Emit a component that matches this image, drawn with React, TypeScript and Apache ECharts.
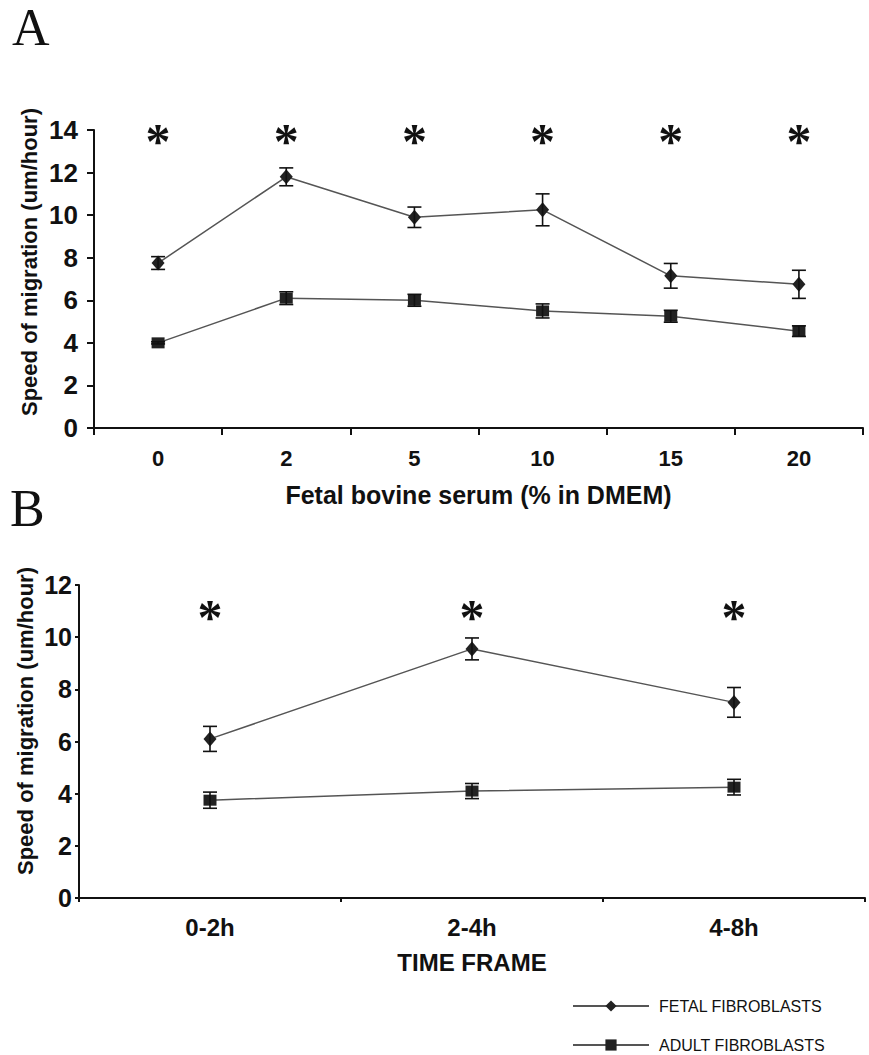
import React, { useEffect, useRef } from "react";
import * as echarts from "echarts";

// ---- Data ----
const catsA = ["0", "2", "5", "10", "15", "20"];
const fetalA = [7.75, 11.8, 9.9, 10.25, 7.15, 6.75];
const fetalAErr = [0.3, 0.42, 0.48, 0.75, 0.58, 0.66];
const adultA = [4.0, 6.1, 6.0, 5.5, 5.25, 4.55];
const adultAErr = [0.05, 0.3, 0.28, 0.33, 0.28, 0.25];
const sigA = [true, true, true, true, true, true];

const catsB = ["0-2h", "2-4h", "4-8h"];
const fetalB = [6.1, 9.55, 7.5];
const fetalBErr = [0.48, 0.42, 0.57];
const adultB = [3.75, 4.1, 4.25];
const adultBErr = [0.31, 0.29, 0.3];
const sigB = [true, true, true];

const yTicksA = { min: 0, max: 14, interval: 2 };
const yTicksB = { min: 0, max: 12, interval: 2 };

const FETAL = "FETAL FIBROBLASTS";
const ADULT = "ADULT FIBROBLASTS";
const Y_TITLE = "Speed of migration (um/hour)";

// ---- Styles ----
const SANS = "'Liberation Sans', Arial, sans-serif";
const SERIF = "'Liberation Serif', 'Times New Roman', serif";
const STAR_LEVEL_A = 13.77;
const STAR_LEVEL_B = 11.0;
const STAR_SIZE = 50;

const errData = (vals: number[], errs: number[]) =>
  vals.map((v, i) => [i, v - errs[i], v + errs[i]]);

const renderErr = (params: any, api: any) => {
  const x = api.value(0);
  const lo = api.coord([x, api.value(1)]);
  const hi = api.coord([x, api.value(2)]);
  const w = 7;
  const st = { stroke: "#111", lineWidth: 1.6 };
  return {
    type: "group",
    children: [
      { type: "line", shape: { x1: hi[0], y1: hi[1], x2: lo[0], y2: lo[1] }, style: st },
      { type: "line", shape: { x1: hi[0] - w, y1: hi[1], x2: hi[0] + w, y2: hi[1] }, style: st },
      { type: "line", shape: { x1: lo[0] - w, y1: lo[1], x2: lo[0] + w, y2: lo[1] }, style: st },
    ],
  };
};

const renderStar = (params: any, api: any) => {
  const p = api.coord([api.value(0), api.value(1)]);
  return {
    type: "text",
    x: p[0],
    y: p[1] + STAR_SIZE * 0.12,
    style: {
      text: "*",
      fontSize: STAR_SIZE,
      fontWeight: "bold",
      fontFamily: SERIF,
      fill: "#111",
      align: "center",
      verticalAlign: "middle",
    },
  };
};

const starData = (sig: boolean[], level: number) =>
  sig.map((s, i) => (s ? [i, level] : null)).filter((d) => d !== null);

const axisLineStyle = { show: true, lineStyle: { color: "#111", width: 2 } };

const yTitle = (x: number, y: number) => ({
  type: "text",
  x,
  y,
  rotation: Math.PI / 2,
  style: {
    text: Y_TITLE,
    fontSize: 22,
    fontWeight: "bold",
    fontFamily: SANS,
    fill: "#111",
    align: "center",
    verticalAlign: "middle",
  },
});

const legendCommon = {
  orient: "horizontal",
  left: 572,
  padding: 0,
  itemWidth: 76,
  itemHeight: 14,
  textStyle: { fontSize: 16, color: "#111", fontFamily: SANS, padding: [0, 0, 0, 5] },
};

export default function App() {
  const ref = useRef<HTMLDivElement>(null);
  useEffect(() => {
    if (!ref.current) return;
    const chart = echarts.init(ref.current, null, { renderer: "svg" });
    const lineCommon = {
      type: "line",
      lineStyle: { color: "#555", width: 1.5 },
      itemStyle: { color: "#222" },
      showSymbol: true,
      z: 3,
    };
    const option: any = {
      animation: false,
      backgroundColor: "#fff",
      textStyle: { fontFamily: SANS },
      grid: [
        { left: 94, top: 130, width: 769, height: 298 },
        { left: 79, top: 585, width: 786, height: 313 },
      ],
      xAxis: [
        {
          type: "category",
          gridIndex: 0,
          data: catsA,
          boundaryGap: true,
          axisLine: axisLineStyle,
          axisTick: { show: true, length: 7, lineStyle: { color: "#111", width: 2 } },
          axisLabel: { fontSize: 22, fontWeight: "bold", color: "#111", fontFamily: SANS, margin: 19 },
          name: "Fetal bovine serum (% in DMEM)",
          nameLocation: "middle",
          nameGap: 54,
          nameTextStyle: { fontSize: 25, fontWeight: "bold", color: "#111", fontFamily: SANS },
        },
        {
          type: "category",
          gridIndex: 1,
          data: catsB,
          boundaryGap: true,
          axisLine: axisLineStyle,
          axisTick: { show: true, length: 4, lineStyle: { color: "#111", width: 2 } },
          axisLabel: { fontSize: 24, fontWeight: "bold", color: "#111", fontFamily: SANS, margin: 17 },
          name: "TIME FRAME",
          nameLocation: "middle",
          nameGap: 52,
          nameTextStyle: { fontSize: 24, fontWeight: "bold", color: "#111", fontFamily: SANS },
        },
      ],
      yAxis: [
        {
          type: "value",
          gridIndex: 0,
          ...yTicksA,
          axisLine: axisLineStyle,
          axisTick: { show: true, length: 7, lineStyle: { color: "#111", width: 2 } },
          splitLine: { show: false },
          axisLabel: { fontSize: 26, fontWeight: "bold", color: "#111", fontFamily: SANS, margin: 16 },
        },
        {
          type: "value",
          gridIndex: 1,
          ...yTicksB,
          axisLine: axisLineStyle,
          axisTick: { show: true, length: 4, lineStyle: { color: "#111", width: 2 } },
          splitLine: { show: false },
          axisLabel: { fontSize: 25, fontWeight: "bold", color: "#111", fontFamily: SANS, margin: 7 },
        },
      ],
      legend: [
        { ...legendCommon, top: 998, data: [FETAL] },
        { ...legendCommon, top: 1037, data: [ADULT] },
      ],
      graphic: [
        { type: "text", left: 12, top: 1, style: { text: "A", font: `52px ${SERIF}`, fill: "#111" } },
        { type: "text", left: 10, top: 482, style: { text: "B", font: `52px ${SERIF}`, fill: "#111" } },
        yTitle(29, 262),
        yTitle(25, 721),
      ],
      series: [
        { ...lineCommon, name: FETAL, xAxisIndex: 0, yAxisIndex: 0, data: fetalA, symbol: "diamond", symbolSize: [13, 15] },
        { ...lineCommon, name: ADULT, xAxisIndex: 0, yAxisIndex: 0, data: adultA, symbol: "rect", symbolSize: [13, 11] },
        { ...lineCommon, name: FETAL, xAxisIndex: 1, yAxisIndex: 1, data: fetalB, symbol: "diamond", symbolSize: [13, 15] },
        { ...lineCommon, name: ADULT, xAxisIndex: 1, yAxisIndex: 1, data: adultB, symbol: "rect", symbolSize: [13, 11] },
        { type: "custom", xAxisIndex: 0, yAxisIndex: 0, renderItem: renderErr, data: errData(fetalA, fetalAErr), z: 4, silent: true },
        { type: "custom", xAxisIndex: 0, yAxisIndex: 0, renderItem: renderErr, data: errData(adultA, adultAErr), z: 4, silent: true },
        { type: "custom", xAxisIndex: 1, yAxisIndex: 1, renderItem: renderErr, data: errData(fetalB, fetalBErr), z: 4, silent: true },
        { type: "custom", xAxisIndex: 1, yAxisIndex: 1, renderItem: renderErr, data: errData(adultB, adultBErr), z: 4, silent: true },
        { type: "custom", xAxisIndex: 0, yAxisIndex: 0, renderItem: renderStar, data: starData(sigA, STAR_LEVEL_A), z: 5, silent: true },
        { type: "custom", xAxisIndex: 1, yAxisIndex: 1, renderItem: renderStar, data: starData(sigB, STAR_LEVEL_B), z: 5, silent: true },
      ],
    };
    chart.setOption(option);
    return () => chart.dispose();
  }, []);
  return (
    <div
      ref={ref}
      style={{ position: "absolute", left: 0, top: 0, width: 869, height: 1055, background: "#fff" }}
    />
  );
}
